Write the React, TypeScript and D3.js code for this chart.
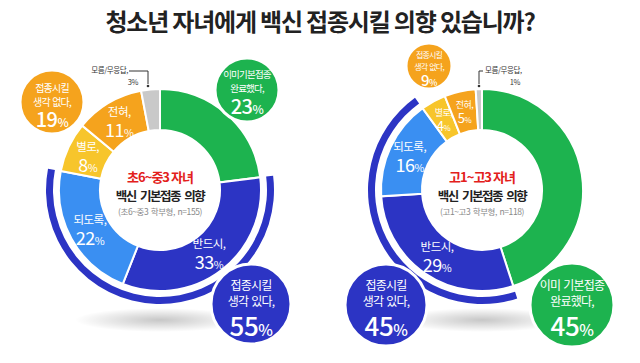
import React from 'react';
import * as d3 from 'd3';

// slices, clockwise from 12 o'clock
const categories = ['이미 기본접종 완료했다', '반드시', '되도록', '별로', '전혀', '모름/무응답'];
const sliceLabels = ['', '반드시,', '되도록,', '별로,', '전혀,', ''];
const middleValues = [23, 33, 22, 8, 11, 3]; // 초6~중3, n=155
const highValues = [45, 29, 16, 4, 5, 1]; // 고1~고3, n=118
const colors = ['#1db34f', '#2c34c4', '#3a8ff2', '#f7c52b', '#f5a31d', '#c9c9c9'];

const FONT = "'Noto Sans CJK KR', 'Noto Sans', sans-serif";
const R_IN = 60;
const R_OUT = 101;

function Pct({ x, y, value, size, fill = '#fff', weight = 500 }) {
  return (
    <text x={x} y={y} textAnchor="middle" fill={fill} fontSize={size} fontWeight={weight} fontFamily={FONT} letterSpacing={-0.5}>
      {value}
      <tspan fontSize={size * 0.6}>%</tspan>
    </text>
  );
}

function Bubble({ b }) {
  return (
    <g>
      <circle cx={b.x} cy={b.y} r={b.r} fill={b.color} stroke="#fff" strokeWidth={3} />
      {b.lines.map((t, i) => (
        <text key={i} x={b.x} y={b.y + b.lineY[i]} textAnchor="middle" fill="#fff" fontSize={b.fs} fontFamily={FONT} letterSpacing={-0.8} wordSpacing={1}>
          {t}
        </text>
      ))}
      <Pct x={b.x} y={b.y + b.pctY} value={b.value} size={b.pctSize} />
    </g>
  );
}

function Donut({ cx, cy, values, title, sub, bubbles, na }) {
  const arcs = d3.pie().sort(null).value((d) => d)(values);
  const arc = d3.arc().innerRadius(R_IN).outerRadius(R_OUT);
  const labelArc = d3.arc().innerRadius(80).outerRadius(80);
  const band = d3.arc().innerRadius(107).outerRadius(114);
  const yesBand = band({ startAngle: arcs[1].startAngle, endAngle: arcs[2].endAngle });

  return (
    <g>
      <ellipse cx={cx} cy={cy + 130} rx={85} ry={12} fill="url(#shadow)" />
      <g transform={`translate(${cx},${cy})`}>
        <path d={yesBand} fill={colors[1]} />
        {arcs.map((a, i) => (
          <path key={categories[i]} d={arc(a)} fill={colors[i]} stroke="#fff" strokeWidth={2} />
        ))}
        <circle r={R_IN} fill="#fff" />
        {arcs.map((a, i) => {
          if (!sliceLabels[i]) return null;
          const [lx, ly] = labelArc.centroid(a);
          const big = a.data >= 8;
          return (
            <g key={'l' + i}>
              <text x={lx} y={ly - (big ? 5 : 4)} textAnchor="middle" fill="#fff" fontSize={big ? 11.5 : 9} fontFamily={FONT} letterSpacing={-0.5}>
                {sliceLabels[i]}
              </text>
              <Pct x={lx} y={ly + (big ? 16 : 11)} value={a.data} size={big ? 18 : 13} weight={400} />
            </g>
          );
        })}
        <text y={-8} textAnchor="middle" fill="#e3201b" fontSize={13} fontWeight={700} fontFamily={FONT} letterSpacing={-1}>
          {title}
        </text>
        <text y={11} textAnchor="middle" fill="#222" fontSize={12.5} fontWeight={700} fontFamily={FONT} letterSpacing={-1.5} wordSpacing={3}>
          백신 기본접종 의향
        </text>
        <text y={25} textAnchor="middle" fill="#888" fontSize={8.5} fontFamily={FONT} letterSpacing={-0.4} wordSpacing={1}>
          {sub}
        </text>
      </g>
      <g fontFamily={FONT} fontSize={7.5} fill="#333" letterSpacing={-0.4}>
        <text x={cx + na.tx} y={cy - 117} textAnchor={na.anchor}>모름/무응답,</text>
        <text x={cx + na.px} y={cy - 105} textAnchor="end">{values[5]}%</text>
        <path d={na.path} transform={`translate(${cx},${cy})`} fill="none" stroke="#333" strokeWidth={1} />
        <circle cx={cx + na.dotX} cy={cy - 104} r={1.3} fill="#333" />
      </g>
      {bubbles.map((b, i) => (
        <Bubble key={i} b={b} />
      ))}
    </g>
  );
}

export default function App() {
  const sum = (v, a, b) => v[a] + v[b];
  const leftBubbles = [
    { x: 52, y: 102, r: 32, color: colors[4], lines: ['접종시킬', '생각 없다,'], lineY: [-10, 4], fs: 10, value: sum(middleValues, 3, 4), pctY: 25, pctSize: 20 },
    { x: 247, y: 90, r: 32, color: colors[0], lines: ['이미기본접종', '완료했다,'], lineY: [-12, 2], fs: 9.5, value: middleValues[0], pctY: 24, pctSize: 20 },
    { x: 251, y: 304, r: 40, color: colors[1], lines: ['접종시킬', '생각 있다,'], lineY: [-14, 2], fs: 12, value: sum(middleValues, 1, 2), pctY: 32, pctSize: 26 },
  ];
  const rightBubbles = [
    { x: 429, y: 66, r: 23, color: colors[4], lines: ['접종시킬', '생각 없다,'], lineY: [-8, 4], fs: 8, value: sum(highValues, 3, 4), pctY: 20, pctSize: 15 },
    { x: 386, y: 305, r: 41, color: colors[1], lines: ['접종시킬', '생각 있다,'], lineY: [-15, 1], fs: 12, value: sum(highValues, 1, 2), pctY: 31, pctSize: 26 },
    { x: 572, y: 305, r: 42, color: colors[0], lines: ['이미 기본접종', '완료했다,'], lineY: [-15, 1], fs: 12, value: highValues[0], pctY: 31, pctSize: 26 },
  ];

  return (
    <svg width={640} height={363} style={{ position: 'absolute', left: 0, top: 0, background: '#fff' }}>
      <defs>
        <radialGradient id="shadow">
          <stop offset="0%" stopColor="#000" stopOpacity={0.22} />
          <stop offset="100%" stopColor="#000" stopOpacity={0} />
        </radialGradient>
      </defs>
      <text x={320} y={31} textAnchor="middle" fill="#222" fontSize={24} fontWeight={700} fontFamily={FONT} letterSpacing={-1.2}>
        청소년 자녀에게 백신 접종시킬 의향 있습니까?
      </text>
      <Donut
        cx={160}
        cy={190}
        values={middleValues}
        title="초6~중3 자녀"
        sub="(초6~중3 학부형, n=155)"
        bubbles={leftBubbles}
        na={{ tx: -32, anchor: 'end', px: -22, path: 'M-31,-119 H-12 V-106', dotX: -12 }}
      />
      <Donut
        cx={482}
        cy={190}
        values={highValues}
        title="고1~고3 자녀"
        sub="(고1~고3 학부형, n=118)"
        bubbles={rightBubbles}
        na={{ tx: 3, anchor: 'start', px: 38, path: 'M1,-119 H-3 V-106', dotX: -3 }}
      />
    </svg>
  );
}
